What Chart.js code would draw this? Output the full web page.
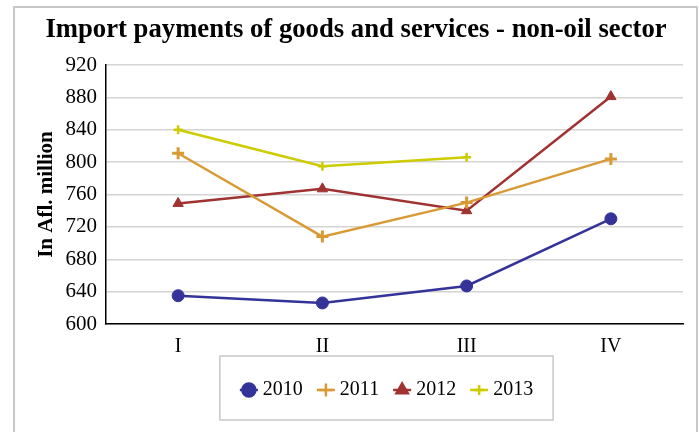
<!DOCTYPE html>
<html lang="en">
<head>
<meta charset="UTF-8">
<title>Import payments - non-oil sector</title>
<script src="https://cdn.jsdelivr.net/npm/chart.js@4.4.0/dist/chart.umd.min.js"></script>
<style>
  html, body { margin: 0; padding: 0; background: #fff; }
  #wrap { position: relative; width: 699px; height: 432px; }
</style>
</head>
<body>
<div id="wrap"><canvas id="graph" width="699" height="432"></canvas></div>
<script>
    // Datos
    const quarters = ['I', 'II', 'III', 'IV'];
    const s2010 = [635, 626, 647, 730];
    const s2011 = [811, 708, 750, 804];
    const s2012 = [749, 767, 740, 881];
    const s2013 = [840, 795, 806, null];
    const yTicks = [600, 640, 680, 720, 760, 800, 840, 880, 920];

    const serif = "'Liberation Serif', 'Times New Roman', serif";

    const series = [
        { label: '2010', data: s2010, color: '#333399', style: 'circle',   radius: 6,   bw: 1 },
        { label: '2011', data: s2011, color: '#D99A36', style: 'cross',    radius: 6,   bw: 3 },
        { label: '2012', data: s2012, color: '#A03232', style: 'triangle', radius: 6,   bw: 1 },
        { label: '2013', data: s2013, color: '#CCCC00', style: 'cross',    radius: 4.5, bw: 2.5 }
    ];

    // Marco exterior gris
    const framePlugin = {
        id: 'frame',
        beforeDraw(chart) {
            const c = chart.ctx;
            c.save();
            c.strokeStyle = '#c8c8c8';
            c.lineWidth = 2;
            c.strokeRect(14, 7, 683, 440);
            c.restore();
        }
    };

    // Leyenda con línea + marcador, dentro de un recuadro
    const legendPlugin = {
        id: 'boxLegend',
        afterDraw(chart) {
            const c = chart.ctx;
            const area = chart.chartArea;
            c.save();
            c.font = '20px ' + serif;
            const sym = 18, gap = 5, sep = 14;
            const widths = series.map(s => sym + gap + c.measureText(s.label).width);
            const inner = widths.reduce((a, b) => a + b, 0) + sep * (series.length - 1);
            const boxW = inner + 40, boxH = 64;
            const cx = (area.left + area.right) / 2 - 8;
            const bx = cx - boxW / 2, by = area.bottom + 32;
            c.fillStyle = '#fff';
            c.fillRect(bx, by, boxW, boxH);
            c.strokeStyle = '#c8c8c8';
            c.lineWidth = 1.5;
            c.strokeRect(bx, by, boxW, boxH);
            let x = bx + 20;
            const y = by + boxH / 2 + 2;
            series.forEach((s, i) => {
                c.strokeStyle = s.color;
                c.lineWidth = 2.5;
                c.beginPath();
                c.moveTo(x, y);
                c.lineTo(x + sym, y);
                c.stroke();
                c.fillStyle = s.color;
                Chart.helpers.drawPoint(c, {
                    pointStyle: s.style, radius: s.radius + 0.5, borderWidth: s.bw, rotation: 0
                }, x + sym / 2, y);
                c.fillStyle = '#000';
                c.textBaseline = 'middle';
                c.textAlign = 'left';
                c.fillText(s.label, x + sym + gap, y);
                x += widths[i] + sep;
            });
            c.restore();
        }
    };

    const ctx = document.getElementById('graph').getContext('2d');
    const chart = new Chart(ctx, {
        type: 'line',
        data: {
            labels: quarters,
            datasets: series.map(s => ({
                label: s.label,
                data: s.data,
                borderColor: s.color,
                backgroundColor: s.color,
                pointBackgroundColor: s.color,
                pointBorderColor: s.color,
                pointStyle: s.style,
                pointRadius: s.radius,
                pointBorderWidth: s.bw,
                borderWidth: 2.5,
                tension: 0,
                spanGaps: false
            }))
        },
        options: {
            responsive: false,
            animation: false,
            layout: { padding: { left: 29, right: 16, top: 0, bottom: 0 } },
            plugins: {
                legend: { display: false },
                tooltip: { enabled: false },
                title: {
                    display: true,
                    text: 'Import payments of goods and services - non-oil sector',
                    color: '#000',
                    font: { family: serif, size: 26.7, weight: 'bold' },
                    padding: { top: 14, bottom: 19 }
                }
            },
            scales: {
                x: {
                    offset: true,
                    grid: { display: false, drawTicks: false },
                    border: { color: '#000', width: 1.5 },
                    ticks: { color: '#000', font: { family: serif, size: 20 }, padding: 11 },
                    afterFit(scale) { scale.height = 108; }
                },
                y: {
                    min: 600,
                    max: 920,
                    afterBuildTicks(scale) { scale.ticks = yTicks.map(v => ({ value: v })); },
                    grid: { color: '#d4d4d4', lineWidth: 1.5, drawTicks: false },
                    border: { color: '#000', width: 1.5 },
                    ticks: { color: '#000', font: { family: serif, size: 21 }, padding: 9 },
                    title: {
                        display: true,
                        text: 'In Afl. million',
                        color: '#000',
                        font: { family: serif, size: 21, weight: 'bold' },
                        padding: { top: 5, bottom: 0 }
                    },
                    afterFit(scale) { scale.width = 77; }
                }
            }
        },
        plugins: [framePlugin, legendPlugin]
    });
</script>
</body>
</html>
